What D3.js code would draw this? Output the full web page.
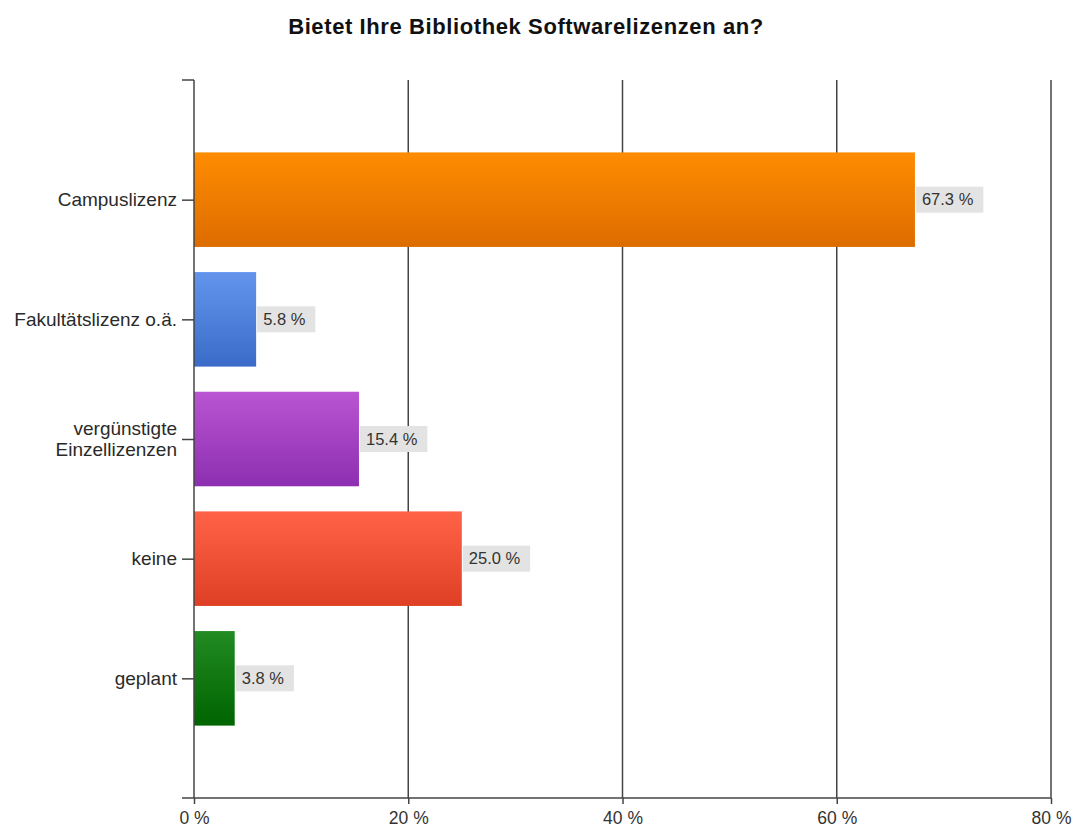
<!DOCTYPE html>
<html><head><meta charset="utf-8">
<script src="https://cdn.jsdelivr.net/npm/d3@7"></script>
<style>body{margin:0;background:#fff;} text{font-family:"Liberation Sans",Arial,sans-serif;}</style>
</head><body>
<svg id="c" width="1075" height="831"></svg>
<script>
const title = "Bietet Ihre Bibliothek Softwarelizenzen an?";
const categories = ["Campuslizenz", "Fakultätslizenz o.ä.", "vergünstigte\nEinzellizenzen", "keine", "geplant"];
const values = [67.3, 5.8, 15.4, 25.0, 3.8];
const topColors = ["#ff8c00", "#6495ed", "#ba55d3", "#ff6347", "#228b22"];
const bottomColors = ["#dd6c00", "#3a6bc8", "#8c2fb0", "#de3f25", "#006400"];
const xTicks = [0, 20, 40, 60, 80];

(function () {
const svg = d3.select("#c");
const L = 194, R = 1051, T = 80, B = 798;
const x = d3.scaleLinear().domain([0, 80]).range([L, R]);
const y = d3.scalePoint().domain(categories).range([T, B]).padding(1);
const bh = y.step() * 0.79;

const defs = svg.append("defs");
categories.forEach((c, i) => {
  const g = defs.append("linearGradient").attr("id", "g" + i).attr("x1", 0).attr("y1", 0).attr("x2", 0).attr("y2", 1);
  g.append("stop").attr("offset", "0%").attr("stop-color", topColors[i]);
  g.append("stop").attr("offset", "100%").attr("stop-color", bottomColors[i]);
});

svg.append("text").attr("x", 526).attr("y", 34).attr("text-anchor", "middle")
  .attr("font-weight", "bold").attr("font-size", 22).attr("letter-spacing", 0.6)
  .attr("fill", "#111").text(title);

// gridlines
svg.append("g").selectAll("line").data(xTicks.slice(1)).join("line")
  .attr("x1", d => x(d)).attr("x2", d => x(d)).attr("y1", T).attr("y2", B)
  .attr("stroke", "#444").attr("stroke-width", 1.5);

// bottom axis
const xa = svg.append("g").attr("transform", `translate(0,${B})`)
  .call(d3.axisBottom(x).tickValues(xTicks).tickFormat(d => d + " %").tickSize(6).tickSizeOuter(0));
xa.select(".domain").remove();
xa.selectAll("line").attr("stroke", "#444").attr("stroke-width", 1.5);
xa.selectAll("text").attr("font-size", 17.5).attr("fill", "#333").attr("dy", "0.95em")
  .attr("font-family", "Liberation Sans, Arial");
svg.append("line").attr("x1", L - 12).attr("x2", R).attr("y1", B).attr("y2", B)
  .attr("stroke", "#444").attr("stroke-width", 1.5);

// bars
svg.append("g").selectAll("rect").data(values).join("rect")
  .attr("x", x(0)).attr("y", (d, i) => y(categories[i]) - bh / 2)
  .attr("width", d => x(d) - x(0)).attr("height", bh)
  .attr("fill", (d, i) => `url(#g${i})`);

// left axis
const ya = svg.append("g").attr("transform", `translate(${L},0)`)
  .call(d3.axisLeft(y).tickSize(12).tickSizeOuter(0).tickFormat(""));
ya.select(".domain").remove();
ya.selectAll("line").attr("stroke", "#444").attr("stroke-width", 1.5);
svg.append("line").attr("x1", L).attr("x2", L).attr("y1", T).attr("y2", B)
  .attr("stroke", "#444").attr("stroke-width", 1.5);
svg.append("line").attr("x1", L - 12).attr("x2", L).attr("y1", T).attr("y2", T)
  .attr("stroke", "#444").attr("stroke-width", 1.5);

// category labels
categories.forEach(c => {
  const lines = c.split("\n");
  const t = svg.append("text").attr("text-anchor", "end").attr("font-size", 19).attr("fill", "#2a2a2a");
  lines.forEach((l, j) => {
    t.append("tspan").attr("x", L - 17)
      .attr("y", y(c) + (j - (lines.length - 1) / 2) * 21).attr("dy", "0.35em").text(l);
  });
});

// value labels
values.forEach((v, i) => {
  const g = svg.append("g");
  const lbl = v.toFixed(1) + " %";
  const ty = y(categories[i]);
  const t = g.append("text").attr("x", x(v) + 7).attr("y", ty).attr("dy", "0.35em")
    .attr("font-size", 16.5).attr("fill", "#333").text(lbl);
  const w = t.node().getComputedTextLength();
  g.insert("rect", "text").attr("x", x(v) + 1).attr("y", ty - 13).attr("width", w + 16).attr("height", 26)
    .attr("fill", "#e3e3e3");
});
})();
</script>
</body></html>
